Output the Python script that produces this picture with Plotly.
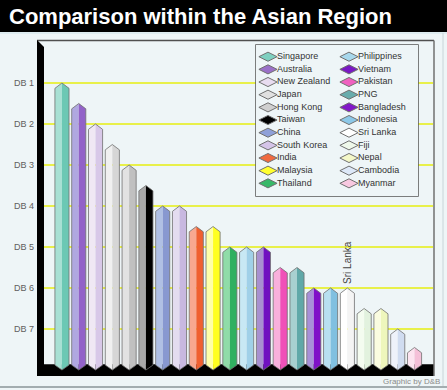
import plotly.graph_objects as go

# ---------------- data ----------------
countries = ["Singapore", "Australia", "New Zealand", "Japan", "Hong Kong", "Taiwan",
             "China", "South Korea", "India", "Malaysia", "Thailand", "Philippines",
             "Vietnam", "Pakistan", "PNG", "Bangladesh", "Indonesia", "Sri Lanka",
             "Fiji", "Nepal", "Cambodia", "Myanmar"]
ratings = [1.0, 1.5, 2.0, 2.5, 3.0, 3.5,
           4.0, 4.0, 4.5, 4.5, 5.0, 5.0,
           5.0, 5.5, 5.5, 6.0, 6.0, 6.0,
           6.5, 6.5, 7.0, 7.45]
tick_vals = [1, 2, 3, 4, 5, 6, 7]
tick_text = ["DB 1", "DB 2", "DB 3", "DB 4", "DB 5", "DB 6", "DB 7"]
title_text = "Comparison within the Asian Region"
credit_text = "Graphic by D&B"
label_country = "Sri Lanka"

# ---------------- styles ----------------
dark_colors = ["#6cc8b4", "#9262c8", "#d8c8e8", "#d6d6d6", "#c0c0c0", "#000000",
               "#8898d0", "#c8b8e0", "#f06030", "#ffff20", "#30b060", "#a0d0e8",
               "#7010c0", "#f050b8", "#60a8a8", "#8010c8", "#80c0e0", "#f4f4f4",
               "#e2f2de", "#eef6bc", "#d0dcf0", "#f4c0d8"]
light_colors = ["#a8e0d4", "#b0a8e0", "#f0e8f4", "#f0f0f0", "#e2e2e2", "#a8a8a8",
                "#b0c0e4", "#e4dcf0", "#f8a890", "#ffffa8", "#90dca8", "#c8e8f4",
                "#a890d0", "#f8b0dc", "#a8d0d0", "#a890d8", "#b8e0f0", "#ffffff",
                "#f4fcf0", "#fafce0", "#eef2fa", "#fce4f0"]
legend_colors = ["#7fd0c0", "#9a70c8", "#e8dcf0", "#e0e0e0", "#cfcfcf", "#000000",
                 "#8fa0d8", "#d4c4e8", "#f06a40", "#ffff30", "#38b868", "#a8d8ec",
                 "#7a18c4", "#f060c0", "#68acac", "#8218c8", "#8cc8e8", "#ffffff",
                 "#eef8ea", "#f4f8c8", "#dde8f8", "#f8c8e0"]

W, H = 447, 390
BG = "#eef5f7"
half = 0.42
cap = 0.13
side_bottom = 7.88
tip_bottom = 8.0
FONT = "Liberation Sans, Arial, sans-serif"

def px(xp):
    return xp / W

def py(yp):
    return 1 - yp / H

fig = go.Figure()

outline_x, outline_y = [], []
for i, v in enumerate(ratings):
    # left (lighter) face
    fig.add_trace(go.Scatter(
        x=[i - half, i - half, i, i, i - half],
        y=[side_bottom, v + cap, v, tip_bottom, side_bottom],
        fill="toself", fillcolor=light_colors[i], mode="lines",
        line=dict(width=0), hoverinfo="skip", showlegend=False))
    # right (darker) face
    fig.add_trace(go.Scatter(
        x=[i, i, i + half, i + half, i],
        y=[tip_bottom, v, v + cap, side_bottom, tip_bottom],
        fill="toself", fillcolor=dark_colors[i], mode="lines",
        line=dict(width=0), name=countries[i], showlegend=False))
    outline_x += [i - half, i - half, i, i + half, i + half, i, i - half, None]
    outline_y += [side_bottom, v + cap, v, v + cap, side_bottom, tip_bottom, side_bottom, None]

fig.add_trace(go.Scatter(x=outline_x, y=outline_y, mode="lines",
                         line=dict(color="#707070", width=0.8),
                         hoverinfo="skip", showlegend=False))

# custom two-column legend on auxiliary axes
n_rows = 11
leg_x = [k // n_rows for k in range(len(countries))]
leg_y = [k % n_rows for k in range(len(countries))]
fig.add_trace(go.Scatter(
    x=leg_x, y=leg_y, xaxis="x2", yaxis="y2",
    mode="markers+text", text=countries, textposition="middle right",
    textfont=dict(size=9, color="#333333", family=FONT),
    marker=dict(symbol="diamond-wide", size=13, color=legend_colors,
                line=dict(color="#707070", width=1)),
    hoverinfo="skip", showlegend=False, cliponaxis=False))

fig.update_layout(
    width=W, height=H,
    margin=dict(l=0, r=0, t=0, b=0),
    paper_bgcolor=BG, plot_bgcolor=BG,
    showlegend=False,
    xaxis=dict(domain=[px(44), px(433)], range=[-1.07, 22.1],
               showgrid=False, zeroline=False, showticklabels=False, fixedrange=True),
    yaxis=dict(domain=[py(376), py(40)], range=[8.146, -0.049],
               tickvals=tick_vals, ticktext=tick_text,
               showgrid=False, zeroline=False, ticks="", ticklabelstandoff=9,
               tickfont=dict(size=9, color="#606060", family=FONT)),
    xaxis2=dict(domain=[px(256), px(418)], range=[-0.148, 1.852], visible=False,
                anchor="y2", fixedrange=True),
    yaxis2=dict(domain=[py(196), py(45)], range=[11.0, -0.924], visible=False,
                anchor="x2", fixedrange=True),
)

shapes = []
# yellow gridlines at each rating tick, within the plot area only
for tv in tick_vals:
    shapes.append(dict(type="line", xref="x domain", yref="y", x0=0, x1=1, y0=tv, y1=tv,
                       line=dict(color="#e8f04a", width=2), layer="below"))
shapes += [
    # title bar
    dict(type="rect", xref="paper", yref="paper", x0=-0.01, x1=1.01, y0=py(32), y1=1.01,
         fillcolor="#000000", line=dict(width=0), layer="above"),
    # light line under title bar
    dict(type="line", xref="paper", yref="paper", x0=0, x1=1, y0=py(33), y1=py(33),
         line=dict(color="#d8e8ee", width=1.5)),
    # plot frame top and right
    dict(type="line", xref="paper", yref="paper", x0=px(37), x1=px(434), y0=py(40.5), y1=py(40.5),
         line=dict(color="#505050", width=1.5), layer="above"),
    dict(type="line", xref="paper", yref="paper", x0=px(434), x1=px(434), y0=py(40.5), y1=py(376),
         line=dict(color="#707070", width=1.5), layer="above"),
    # panel right border
    dict(type="line", xref="paper", yref="paper", x0=px(443), x1=px(443), y0=py(33), y1=py(386),
         line=dict(color="#c8d4d8", width=1)),
    # bottom border line
    dict(type="line", xref="paper", yref="paper", x0=0, x1=1, y0=py(387), y1=py(387),
         line=dict(color="#8a9498", width=1.5)),
    # black left wall
    dict(type="path", xref="paper", yref="paper",
         path=f"M {px(37)},{py(40)} L {px(44)},{py(47)} L {px(44)},{py(376)} L {px(37)},{py(376)} Z",
         fillcolor="#000000", line=dict(width=0), layer="above"),
    # black floor
    dict(type="rect", xref="paper", yref="y", x0=px(37), x1=px(434), y0=7.86, y1=8.146,
         fillcolor="#000000", line=dict(width=0), layer="below"),
    # legend box
    dict(type="rect", xref="x2 domain", yref="y2 domain", x0=0, x1=1, y0=0, y1=1,
         fillcolor="#f2f8fa", line=dict(color="#555555", width=1.5), layer="below"),
]
fig.update_layout(shapes=shapes)

annotations = [
    dict(text=f"<b>{title_text}</b>", xref="paper", yref="paper", x=px(7), y=py(16.5),
         xanchor="left", yanchor="middle", showarrow=False,
         font=dict(size=22, color="#ffffff", family=FONT)),
    dict(text=credit_text, xref="paper", yref="paper", x=px(442), y=py(381),
         xanchor="right", yanchor="middle", showarrow=False,
         font=dict(size=8, color="#8a8a8a", family=FONT)),
]
idx = countries.index(label_country)
annotations.append(dict(text=label_country, x=idx, y=ratings[idx], xref="x", yref="y",
                        textangle=-90, xanchor="center", yanchor="bottom", yshift=2,
                        showarrow=False,
                        font=dict(size=10, color="#444444", family=FONT)))
fig.update_layout(annotations=annotations)

fig.write_html("out.html", config={"displayModeBar": False},
               post_script=("document.body.style.margin='0';document.body.style.padding='0';"
                            "document.body.style.overflow='hidden';"
                            "document.body.style.background='" + BG + "';"
                            "document.documentElement.style.overflow='hidden';"))
